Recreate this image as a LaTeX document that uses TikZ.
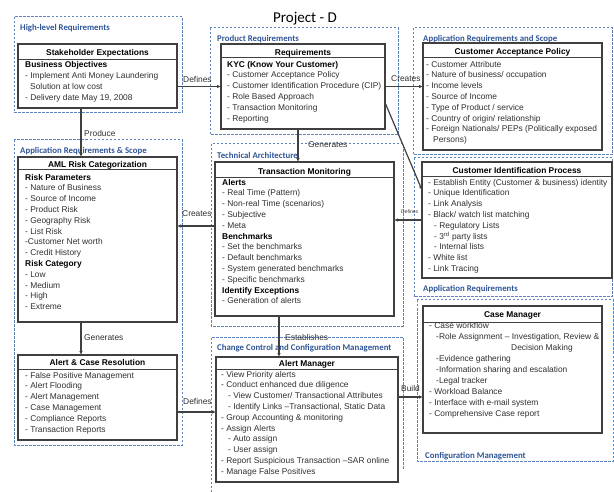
\documentclass[tikz,border=0pt]{standalone}
\usepackage{fontspec}
\setmainfont{Liberation Sans}
\newfontfamily\titlefont{Carlito}
\usetikzlibrary{arrows.meta}
\definecolor{boxline}{HTML}{404040}
\definecolor{frameblue}{HTML}{5E84BE}
\definecolor{titleblue}{HTML}{2F5597}
\definecolor{bodytext}{HTML}{303030}
\newcommand\subhead[1]{\textcolor{black}{\bfseries #1}}
\begin{document}
\begin{tikzpicture}[x=1pt,y=-1pt,
  frame/.style={draw=frameblue, line width=1pt, dash pattern=on 2.5pt off 1.5pt},
  frametitle/.style={font=\titlefont\bfseries\fontsize{8.8}{10}\selectfont, text=titleblue, anchor=base west, inner sep=0},
  panel/.style={draw=boxline, line width=1.1pt, fill=white, anchor=north west, inner sep=0, outer sep=0},
  ruleline/.style={draw=boxline, line width=1pt},
  head/.style={font=\bfseries\fontsize{8.4}{10}\selectfont, anchor=base, inner sep=0, text=black},
  body/.style={font=\fontsize{8.4}{10.8}\selectfont, align=left, anchor=north west, inner sep=0, text=bodytext},
  conn/.style={draw=boxline, line width=1.2pt, -{Latex[length=4pt,width=3.5pt]}},
  lbl/.style={font=\fontsize{8.4}{10}\selectfont, anchor=base west, inner sep=0, text=bodytext},
]
\useasboundingbox (0,0) rectangle (614,492);

% page title
\node[font=\titlefont\fontsize{15}{17}\selectfont, anchor=base, inner sep=0] (title) at (305,22.5) {Project - D};

% dashed grouping frames
\draw[frame] (14,17) rectangle (182,113);
\draw[frame] (14,140) rectangle (182,445);
\draw[frame] (210,28) rectangle (398,135);
\draw[frame] (211,144) rectangle (403,326);
\draw[frame] (211,492) -- (211,337) -- (403,337) -- (403,470);
\draw[frame] (413,28) rectangle (612,155);
\draw[frame] (414,158) rectangle (612,297);
\draw[frame] (417,300) rectangle (613,461);

\node[frametitle] (f1) at (20,30.5) {High-level Requirements};
\node[frametitle] (f2) at (20,153.5) {Application Requirements \& Scope};
\node[frametitle] (f3) at (217,41.5) {Product Requirements};
\node[frametitle] (f4) at (217,158.5) {Technical Architecture};
\node[frametitle] (f5) at (217,350.5) {Change Control and Configuration Management};
\node[frametitle] (f6) at (423,41.5) {Application Requirements and Scope};
\node[frametitle] (f7) at (423,291.5) {Application Requirements};
\node[frametitle] (f8) at (425,458.5) {Configuration Management};

% ---- Stakeholder Expectations
\node[panel, minimum width=159pt, minimum height=64pt] (S) at (18,44) {};
\draw[ruleline] ([yshift=-16pt]S.north west) -- ([yshift=-16pt]S.north east);
\node[head] (Sh) at ([yshift=-12pt]S.north) {Stakeholder Expectations};
\node[body, font=\fontsize{8.4}{11}\selectfont] (Sb) at (25,59.4) {\strut\subhead{Business Objectives}\\
- Implement  Anti Money Laundering\\
\hspace*{5pt}Solution at low cost\\
- Delivery date May 19, 2008};

% ---- Requirements
\node[panel, minimum width=164pt, minimum height=85pt] (R) at (221,44) {};
\draw[ruleline] ([yshift=-14pt]R.north west) -- ([yshift=-14pt]R.north east);
\node[head] (Rh) at ([yshift=-11.5pt]R.north) {Requirements};
\node[body] (Rb) at (227,59.4) {\strut\subhead{KYC (Know Your Customer)}\\
- Customer Acceptance Policy\\
- Customer Identification Procedure (CIP)\\
- Role Based Approach\\
- Transaction Monitoring\\
- Reporting};

% ---- Customer Acceptance Policy
\node[panel, minimum width=179pt, minimum height=107pt] (CAP) at (423,43) {};
\draw[ruleline] ([yshift=-15pt]CAP.north west) -- ([yshift=-15pt]CAP.north east);
\node[head] (CAPh) at ([yshift=-11.5pt]CAP.north) {Customer Acceptance Policy};
\node[body] (CAPb) at (426,59.4) {\strut- Customer Attribute\\
- Nature of business/ occupation\\
- Income levels\\
- Source of Income\\
- Type of Product / service\\
- Country of origin/ relationship\\
- Foreign Nationals/ PEPs (Politically exposed\\
\hspace*{7pt}Persons)};

% ---- AML Risk Categorization
\node[panel, minimum width=159pt, minimum height=165pt] (AML) at (18,157) {};
\draw[ruleline] ([yshift=-13pt]AML.north west) -- ([yshift=-13pt]AML.north east);
\node[head] (AMLh) at ([yshift=-11pt]AML.north) {AML Risk Categorization};
\node[body] (AMLb) at (25,172.4) {\strut\subhead{Risk Parameters}\\
- Nature of Business\\
- Source of Income\\
- Product Risk\\
- Geography Risk\\
- List Risk\\
-Customer Net worth\\
- Credit History\\
\subhead{Risk Category}\\
- Low\\
- Medium\\
- High\\
- Extreme};

% ---- Alert & Case Resolution
\node[panel, minimum width=159pt, minimum height=85pt] (ACR) at (18,355) {};
\draw[ruleline] ([yshift=-14pt]ACR.north west) -- ([yshift=-14pt]ACR.north east);
\node[head] (ACRh) at ([yshift=-10.5pt]ACR.north) {Alert \& Case Resolution};
\node[body] (ACRb) at (25,370.4) {\strut- False Positive Management\\
- Alert Flooding\\
- Alert Management\\
- Case Management\\
- Compliance  Reports\\
- Transaction Reports};

% ---- Transaction Monitoring
\node[panel, minimum width=179pt, minimum height=154pt] (TM) at (215,162) {};
\draw[ruleline] ([yshift=-16pt]TM.north west) -- ([yshift=-16pt]TM.north east);
\node[head] (TMh) at ([yshift=-12.5pt]TM.north) {Transaction Monitoring};
\node[body] (TMb) at (222,177.4) {\strut\subhead{Alerts}\\
- Real Time (Pattern)\\
- Non-real Time  (scenarios)\\
- Subjective\\
- Meta\\
\subhead{Benchmarks}\\
- Set the benchmarks\\
- Default benchmarks\\
- System generated benchmarks\\
- Specific benchmarks\\
\subhead{Identify Exceptions}\\
- Generation of alerts};

% ---- Customer Identification Process
\node[panel, minimum width=190pt, minimum height=116pt] (CIP) at (422,162) {};
\draw[ruleline] ([yshift=-15pt]CIP.north west) -- ([yshift=-15pt]CIP.north east);
\node[head] (CIPh) at ([yshift=-11.5pt]CIP.north) {Customer Identification Process};
\node[body] (CIPb) at (428,177.4) {\strut- Establish Entity (Customer \& business) identity\\
- Unique  Identification\\
- Link Analysis\\
- Black/ watch list matching\\
\hspace*{6pt}- Regulatory Lists\\
\hspace*{6pt}- 3\textsuperscript{rd} party lists\\
\hspace*{6pt}- Internal lists\\
- White list\\
- Link Tracing};

% ---- Alert Manager
\node[panel, minimum width=182pt, minimum height=125pt] (AM) at (216,357) {};
\draw[ruleline] ([yshift=-12pt]AM.north west) -- ([yshift=-12pt]AM.north east);
\node[head] (AMh) at ([yshift=-9.5pt]AM.north) {Alert Manager};
\node[body] (AMb) at (221,369.4) {\strut- View Priority alerts\\
- Conduct enhanced due diligence\\
\hspace*{7pt}- View Customer/ Transactional Attributes\\
\hspace*{7pt}- Identify Links –Transactional, Static Data\\
- Group Accounting \& monitoring\\
- Assign Alerts\\
\hspace*{7pt}- Auto assign\\
\hspace*{7pt}- User assign\\
- Report Suspicious Transaction –SAR online\\
- Manage False Positives};

% ---- Case Manager
\node[panel, minimum width=179pt, minimum height=127pt] (CM) at (423,306) {};
\draw[ruleline] ([yshift=-16pt]CM.north west) -- ([yshift=-16pt]CM.north east);
\node[head] (CMh) at ([yshift=-11.5pt]CM.north) {Case Manager};
\node[body, font=\fontsize{8.4}{11}\selectfont] (CMb) at (429,320.4) {\strut- Case workflow\\
\hspace*{7pt}-Role Assignment – Investigation, Review \&\\
\hspace*{82pt}Decision Making\\
\hspace*{7pt}-Evidence gathering\\
\hspace*{7pt}-Information sharing and escalation\\
\hspace*{7pt}-Legal tracker\\
- Workload Balance\\
- Interface with e-mail system\\
- Comprehensive Case report};

% ---- connectors
\draw[conn] (S.east |- R.west) -- (R.west);
\draw[conn] ([xshift=-16.5pt]S.south) -- ([xshift=-16.5pt]S.south |- AML.north);
\draw[conn] (R.east) -- (R.east -| CAP.west);
\draw[conn] ([yshift=-16pt]R.east) -- ([yshift=30pt]CIP.west);
\draw[conn] ([xshift=-5pt]R.south) -- ([xshift=-5pt]R.south |- TM.north);
\draw[conn] ([yshift=13pt]TM.west) -- ([yshift=13pt]TM.west -| AML.east);
\draw[conn] (CIP.west) -- (CIP.west -| TM.east);
\draw[conn] ([xshift=-16.5pt]AML.south) -- ([xshift=-16.5pt]AML.south |- ACR.north);
\draw[conn] ([xshift=-25.5pt]TM.south) -- ([xshift=-25.5pt]TM.south |- AM.north);
\draw[conn] ([yshift=-14.5pt]ACR.east) -- ([yshift=-14.5pt]ACR.east -| AM.west);
\draw[conn] ([yshift=22.5pt]AM.east) -- ([yshift=22.5pt]AM.east -| CM.west);

% ---- connector labels
\node[lbl] (l1) at (183,83) {Defines};
\node[lbl] (l2) at (84,137) {Produce};
\node[lbl] (l3) at (391,82) {Creates};
\node[lbl] (l4) at (308,148) {Generates};
\node[lbl] (l5) at (182,217) {Creates};
\node[lbl, font=\fontsize{5}{6}\selectfont] (l6) at (401,214) {Defines};
\node[lbl] (l7) at (84,340) {Generates};
\node[lbl] (l8) at (285,340) {Establishes};
\node[lbl] (l9) at (183,404) {Defines};
\node[lbl] (l10) at (401,391) {Build};
\end{tikzpicture}
\end{document}
